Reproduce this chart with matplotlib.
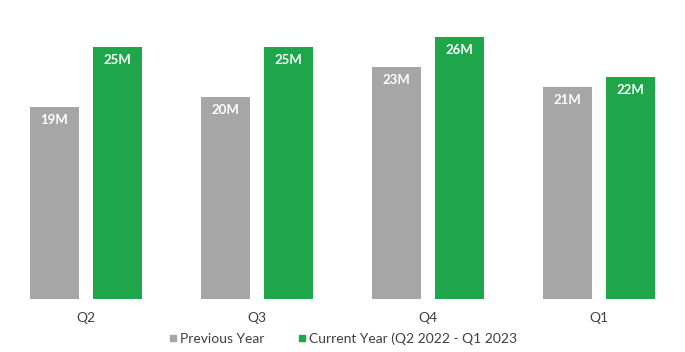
import matplotlib
matplotlib.use("Agg")
import matplotlib.pyplot as plt
import numpy as np

quarters = ["Q2", "Q3", "Q4", "Q1"]
previous_year = [19, 20, 23, 21]
current_year = [25, 25, 26, 22]
series_names = ["Previous Year", "Current Year (Q2 2022 - Q1 2023"]

GRAY = "#A6A6A6"
GREEN = "#1FA64A"

plt.rcParams["font.family"] = ["Lato", "DejaVu Sans"]

fig = plt.figure(figsize=(6.85, 3.52), dpi=100)
ax = fig.add_axes([0, 53 / 352, 1, 299 / 352])

x = np.arange(len(quarters))
w = 0.287
off = 0.184
b1 = ax.bar(x - off, previous_year, w, color=GRAY, label=series_names[0])
b2 = ax.bar(x + off, current_year, w, color=GREEN, label=series_names[1])

for bars, vals in ((b1, previous_year), (b2, current_year)):
    for r, v in zip(bars, vals):
        ax.annotate(f"{v}M", (r.get_x() + r.get_width() / 2, v), xytext=(0, -5),
                    textcoords="offset points", ha="center", va="top",
                    color="white", fontsize=9.5, weight="bold")

ax.set_xlim(-0.5, 3.5)
ax.set_ylim(0, 29.66)
ax.set_yticks([])
ax.set_xticks(x)
ax.set_xticklabels(quarters, fontsize=10, color="#404040")
ax.tick_params(axis="x", length=0, pad=9)
for s in ax.spines.values():
    s.set_visible(False)

ax.legend(handles=[plt.Line2D([], [], marker="s", ls="", color=GRAY, markersize=4.5),
                   plt.Line2D([], [], marker="s", ls="", color=GREEN, markersize=4.5)],
          labels=series_names, loc="center", bbox_to_anchor=(0.5, 13 / 352),
          bbox_transform=fig.transFigure, ncol=2, frameon=False, fontsize=10,
          handletextpad=0.1, columnspacing=2.3, handlelength=0.8,
          labelcolor="#404040")

fig.savefig("out.png", dpi=100)
